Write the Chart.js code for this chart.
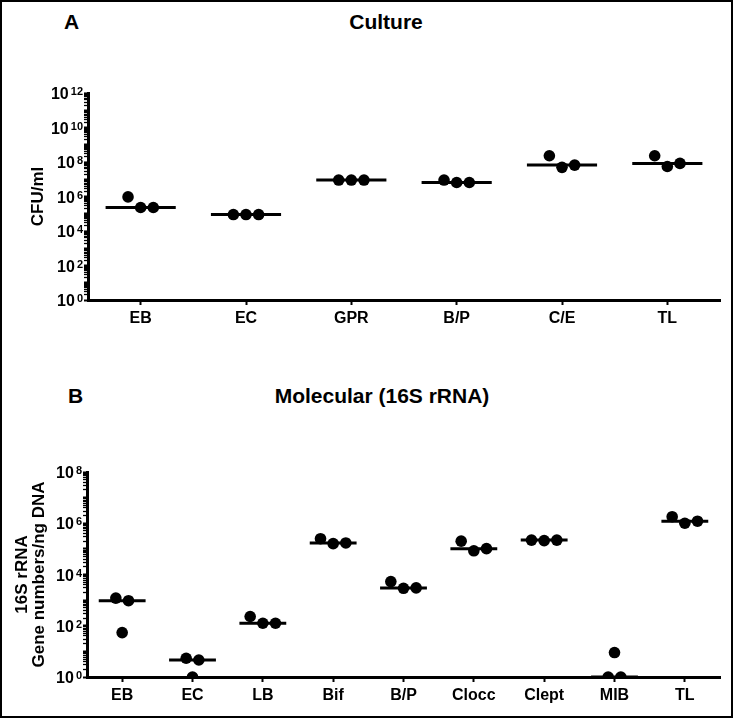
<!DOCTYPE html>
<html>
<head>
<meta charset="utf-8">
<script src="https://cdn.jsdelivr.net/npm/chart.js@4.4.0/dist/chart.umd.min.js"></script>
<style>
  body { margin: 0; background: #fff; }
  #pagina { position: relative; width: 733px; height: 718px; background: #fff; font-family: "Liberation Sans", Arial, sans-serif; }
  #marco { position: absolute; left: 0; top: 0; width: 733px; height: 718px; box-sizing: border-box; border: 2px solid #000; pointer-events: none; z-index: 5; }
  .letra, .titulo { position: absolute; font-weight: bold; font-size: 21px; line-height: 21px; color: #000; white-space: nowrap; }
  .titulo { transform: translateX(-50%); }
  canvas { position: absolute; left: 0; }
</style>
</head>
<body>
<div id="pagina">
  <div class="letra" style="left:64px; top:11px;">A</div>
  <div class="titulo" style="left:386px; top:11px;">Culture</div>
  <div class="letra" style="left:68px; top:385px;">B</div>
  <div class="titulo" style="left:382px; top:385px;">Molecular (16S rRNA)</div>
  <canvas id="graficoCultivo" width="733" height="290" style="top:60px;"></canvas>
  <canvas id="graficoMolecular" width="733" height="276" style="top:440px;"></canvas>
  <div id="marco"></div>
</div>
<script>
// Datos panel A (cultivo), tres réplicas por grupo
const gruposCultivo = ['EB', 'EC', 'GPR', 'B/P', 'C/E', 'TL'];
const cultivoRep1 = [9.5e5, 9e4, 9e6, 9e6, 2.3e8, 2.3e8];
const cultivoRep2 = [2.3e5, 9e4, 9e6, 6.5e6, 4.9e7, 5.5e7];
const cultivoRep3 = [2.3e5, 9e4, 9e6, 6.5e6, 6.6e7, 8.3e7];
const ticksCultivo = [1, 1e2, 1e4, 1e6, 1e8, 1e10, 1e12];

// Datos panel B (16S rRNA)
const gruposMolecular = ['EB', 'EC', 'LB', 'Bif', 'B/P', 'Clocc', 'Clept', 'MIB', 'TL'];
const molecularRep1 = [1.2e3, 5.4, 230, 2.5e5, 5.3e3, 2e5, 2.2e5, 9, 1.8e6];
const molecularRep2 = [9.5e2, 4.6, 125, 1.6e5, 2.9e3, 8.4e4, 2.1e5, 1, 1e6];
const molecularRep3 = [54, 1, 125, 1.7e5, 3e3, 1.02e5, 2.2e5, 1, 1.2e6];
const ticksMolecular = [1, 1e2, 1e4, 1e6, 1e8];

const FUENTE = '"Liberation Sans", Arial, sans-serif';
Chart.defaults.font.family = FUENTE;
Chart.defaults.color = '#000';

// Puntos separados horizontalmente cuando se solapan (como GraphPad)
function armarPuntos(grupos, reps, umbralDecadas, separacion) {
    const puntos = [];
    grupos.forEach((g, i) => {
        const vals = reps.map(r => r[i]);
        const orden = vals.map((v, k) => k).sort((a, b) => vals[a] - vals[b]);
        const racimos = [];
        orden.forEach(k => {
            const ultimo = racimos[racimos.length - 1];
            if (ultimo && Math.log10(vals[k]) - Math.log10(vals[ultimo[ultimo.length - 1]]) < umbralDecadas) {
                ultimo.push(k);
            } else {
                racimos.push([k]);
            }
        });
        racimos.forEach(r => {
            r.sort((a, b) => a - b);
            r.forEach((k, j) => puntos.push({ x: i + (j - (r.length - 1) / 2) * separacion, y: vals[k] }));
        });
    });
    return puntos;
}

// Línea de la mediana de cada grupo
function armarMedianas(grupos, reps, medioAncho) {
    const puntos = [];
    grupos.forEach((g, i) => {
        const vals = reps.map(r => r[i]).sort((a, b) => a - b);
        const mediana = vals[Math.floor(vals.length / 2)];
        puntos.push({ x: i - medioAncho, y: mediana }, { x: i + medioAncho, y: mediana }, { x: i, y: null });
    });
    return puntos;
}

// Etiquetas 10^n con exponente en superíndice
const etiquetasPotencia = {
    id: 'etiquetasPotencia',
    afterDraw(chart, args, opts) {
        const escala = chart.scales.y;
        const ctx = chart.ctx;
        ctx.save();
        ctx.fillStyle = '#000';
        ctx.textAlign = 'right';
        ctx.textBaseline = 'alphabetic';
        opts.valores.forEach(v => {
            const py = escala.getPixelForValue(v);
            const exp = String(Math.round(Math.log10(v)));
            const derecha = escala.right - 5;
            ctx.font = 'bold 11px ' + FUENTE;
            ctx.fillText(exp, derecha, py + 2);
            const w = ctx.measureText(exp).width;
            ctx.font = 'bold 16px ' + FUENTE;
            ctx.fillText('10', derecha - w - 2, py + 6);
        });
        ctx.restore();
    }
};

function crearGrafico(id, cfg) {
    const ctx = document.getElementById(id).getContext('2d');
    const n = cfg.grupos.length;
    return new Chart(ctx, {
        type: 'scatter',
        data: {
            datasets: [{
                data: armarMedianas(cfg.grupos, cfg.reps, 0.333),
                showLine: true,
                spanGaps: false,
                borderColor: '#000',
                borderWidth: 3,
                pointRadius: 0
            }, {
                data: armarPuntos(cfg.grupos, cfg.reps, cfg.umbral, cfg.separacion),
                backgroundColor: '#000',
                borderWidth: 0,
                pointRadius: 5.8
            }]
        },
        plugins: [etiquetasPotencia],
        options: {
            responsive: false,
            animation: false,
            layout: { padding: { top: cfg.arriba, right: 13, bottom: 0, left: 0 } },
            plugins: {
                legend: { display: false },
                tooltip: { enabled: false },
                etiquetasPotencia: { valores: cfg.ticks }
            },
            scales: {
                x: {
                    type: 'linear',
                    min: -0.5,
                    max: n - 0.5,
                    afterBuildTicks: s => { s.ticks = cfg.grupos.map((g, i) => ({ value: i })); },
                    afterFit: s => { s.height = cfg.altoX; },
                    border: { color: '#000', width: 3 },
                    grid: { drawOnChartArea: false, tickLength: 5, tickWidth: 2, tickColor: '#000' },
                    ticks: {
                        autoSkip: false,
                        maxRotation: 0,
                        padding: 4,
                        color: '#000',
                        font: { size: 16, weight: 'bold' },
                        callback: v => cfg.grupos[v]
                    }
                },
                y: {
                    type: 'logarithmic',
                    min: 1,
                    max: cfg.ticks[cfg.ticks.length - 1],
                    afterBuildTicks: s => {
                        const lista = [];
                        for (let p = 1; p < s.max; p *= 10) {
                            for (let m = 1; m < 10; m++) lista.push({ value: m * p });
                        }
                        lista.push({ value: s.max });
                        s.ticks = lista;
                    },
                    afterFit: s => { s.width = cfg.anchoY; },
                    border: { color: '#000', width: 3 },
                    grid: {
                        drawOnChartArea: false,
                        tickLength: 4,
                        tickColor: '#000',
                        tickWidth: c => {
                            const l = Math.log10(c.tick.value);
                            return Math.abs(l - Math.round(l)) < 1e-6 ? 2 : 1.3;
                        }
                    },
                    ticks: { display: false },
                    title: {
                        display: true,
                        text: cfg.tituloY,
                        color: '#000',
                        font: { size: 17, weight: 'bold', lineHeight: cfg.interlineado },
                        padding: { top: cfg.padTitulo, bottom: 0 }
                    }
                }
            }
        }
    });
}

crearGrafico('graficoCultivo', {
    grupos: gruposCultivo,
    reps: [cultivoRep1, cultivoRep2, cultivoRep3],
    ticks: ticksCultivo,
    umbral: 0.8,
    separacion: 0.12,
    arriba: 33,
    altoX: 50,
    anchoY: 88,
    tituloY: 'CFU/ml',
    interlineado: 1.2,
    padTitulo: 28
});

crearGrafico('graficoMolecular', {
    grupos: gruposMolecular,
    reps: [molecularRep1, molecularRep2, molecularRep3],
    ticks: ticksMolecular,
    umbral: 0.5,
    separacion: 0.18,
    arriba: 32,
    altoX: 39,
    anchoY: 87,
    tituloY: ['16S rRNA', 'Gene numbers/ng DNA'],
    interlineado: 1.0,
    padTitulo: 13.5
});
</script>
</body>
</html>
